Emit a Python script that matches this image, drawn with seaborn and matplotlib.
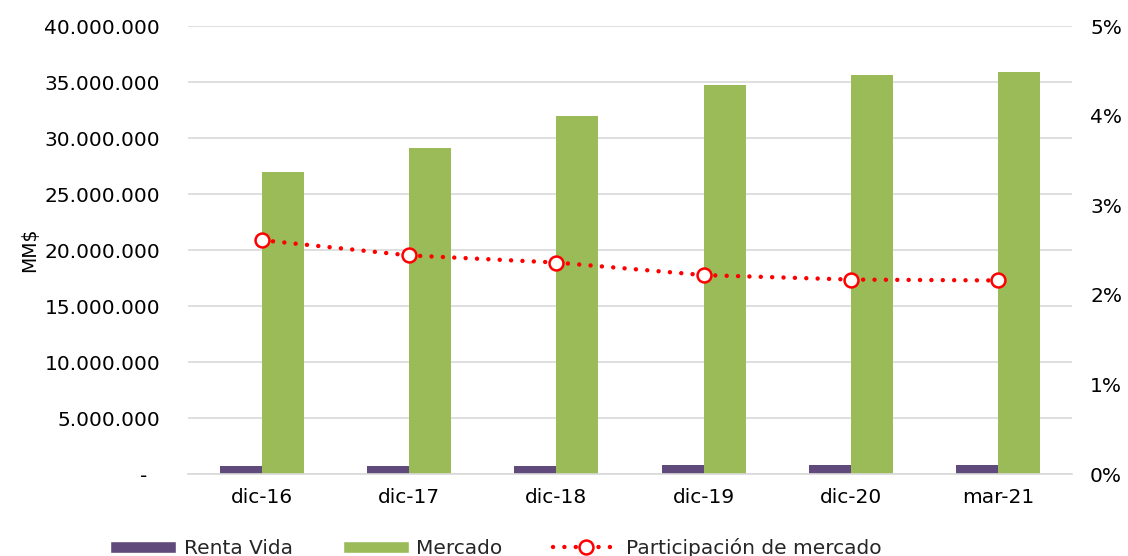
import numpy as np
import pandas as pd
import matplotlib
matplotlib.use("Agg")
import matplotlib.pyplot as plt
import seaborn as sns
from matplotlib.patches import Patch
from matplotlib.ticker import FuncFormatter

# Datos (MM$)
periodos = ["dic-16", "dic-17", "dic-18", "dic-19", "dic-20", "mar-21"]
renta_vida = [704_000, 710_000, 757_000, 771_000, 773_000, 776_000]
mercado = [26_950_000, 29_150_000, 32_000_000, 34_750_000, 35_650_000, 35_900_000]
participacion = [0.0261, 0.0244, 0.0236, 0.0222, 0.0217, 0.0216]

series = ["Renta Vida", "Mercado"]
colores = {"Renta Vida": "#604A7B", "Mercado": "#9BBB59"}
rojo = "#FF0000"
gris = "#D9D9D9"

df = pd.DataFrame({
    "periodo": periodos * 2,
    "serie": [series[0]] * len(periodos) + [series[1]] * len(periodos),
    "valor": renta_vida + mercado,
})

sns.set_theme(style="white")
plt.rcParams["font.family"] = ["DejaVu Sans"]
fs = 14.5

fig = plt.figure(figsize=(11.28, 5.56), dpi=100)
ax = fig.add_axes([188 / 1128, 1 - 474 / 556, (1072 - 188) / 1128, (474 - 26) / 556])

sns.barplot(data=df, x="periodo", y="valor", hue="serie", hue_order=series,
            palette=colores, width=0.57, gap=0, saturation=1, linewidth=0,
            legend=False, ax=ax)

ax.set_ylim(0, 40_000_000)
ax.set_yticks(np.arange(0, 40_000_001, 5_000_000))


def miles(v, _):
    if v == 0:
        return "-  "
    return f"{v:,.0f}".replace(",", ".")


ax.yaxis.set_major_formatter(FuncFormatter(miles))
ax.yaxis.grid(True, color=gris, linewidth=1.2)
ax.set_axisbelow(True)
ax.set_xlabel("")
ax.set_ylabel("MM$", fontsize=fs - 1, labelpad=4, color="#000000")
ax.tick_params(axis="y", length=0, pad=20, labelsize=fs, labelcolor="#000000")
ax.tick_params(axis="x", which="major", length=0, pad=10, labelsize=fs, labelcolor="#000000")
ax.set_xticks(np.arange(-0.5, len(periodos), 1), minor=True)
ax.tick_params(axis="x", which="minor", length=8, width=1.2, color=gris)
for s in ["top", "right", "left"]:
    ax.spines[s].set_visible(False)
ax.spines["bottom"].set_color(gris)
ax.spines["bottom"].set_linewidth(1.2)

# Participación en eje secundario
ax2 = ax.twinx()
sns.lineplot(x=np.arange(len(periodos)), y=participacion, ax=ax2,
             color=rojo, linewidth=3.2, linestyle=(0, (0.01, 2.55)),
             dash_capstyle="round", marker="o", markersize=10,
             markerfacecolor="white", markeredgecolor=rojo, markeredgewidth=1.8)
ax2.set_ylim(0, 0.05)
ax2.set_yticks(np.arange(0, 0.0501, 0.01))
ax2.yaxis.set_major_formatter(FuncFormatter(lambda v, _: f"{v * 100:.0f}%"))
ax2.tick_params(axis="y", length=0, pad=13, labelsize=fs, labelcolor="#000000")
ax2.set_ylabel("")
ax2.grid(False)
for s in ["top", "right", "left", "bottom"]:
    ax2.spines[s].set_visible(False)
ax.set_xlim(-0.5, len(periodos) - 0.5)

handles = [Patch(facecolor=colores["Renta Vida"]),
           Patch(facecolor=colores["Mercado"]),
           ax2.lines[0]]
labels = ["Renta Vida", "Mercado", "Participación de mercado"]
fig.legend(handles, labels, loc="center left", bbox_to_anchor=(110 / 1128, 1 - 548 / 556),
           ncol=3, frameon=False, fontsize=fs, handlelength=3.3, handleheight=0.6,
           handletextpad=0.35, columnspacing=2.5, borderpad=0, borderaxespad=0)

fig.savefig("out.png", dpi=100)
